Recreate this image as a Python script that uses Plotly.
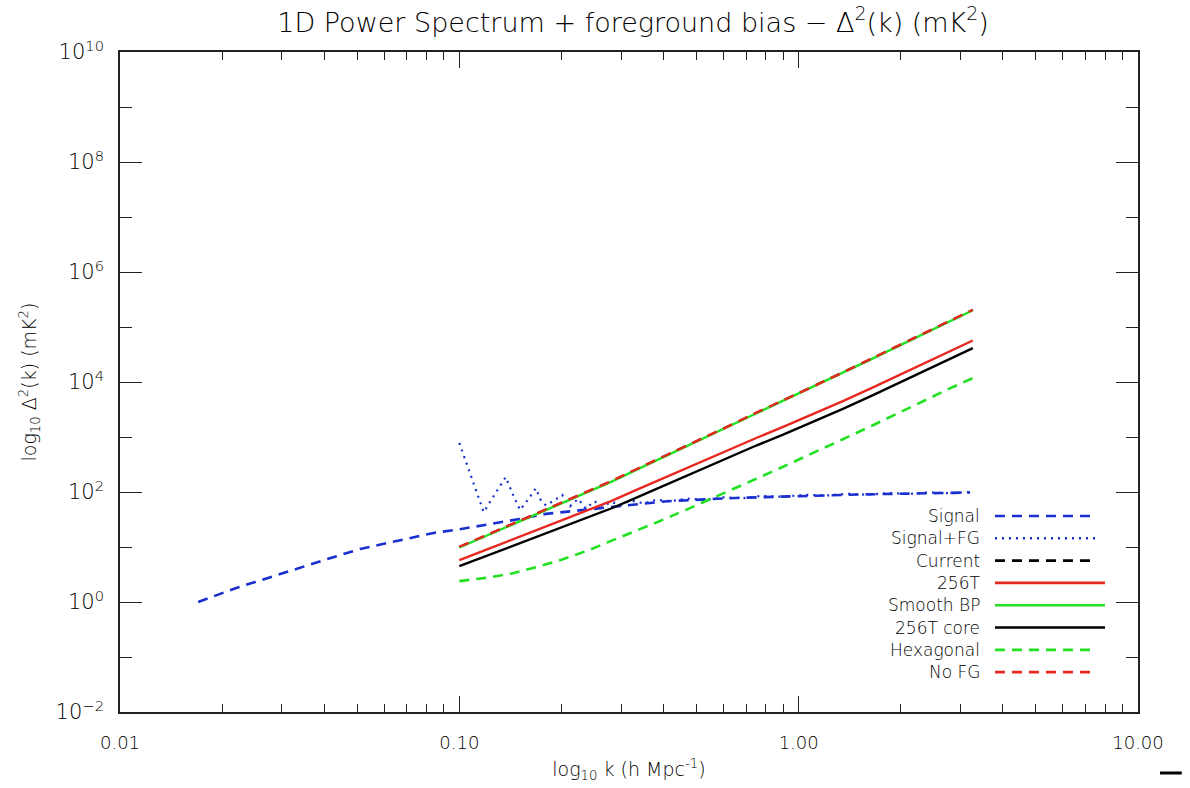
import plotly.graph_objects as go

# ---------------- data ----------------
k_signal = [0.017, 0.022, 0.025, 0.032, 0.040, 0.051, 0.066, 0.084, 0.100, 0.119,
            0.149, 0.18, 0.215, 0.257, 0.30, 0.41, 0.65, 1.0, 1.5, 2.2, 3.2]
v_signal = [1.0, 1.8, 2.3, 3.8, 5.8, 9.2, 12.9, 18, 21, 25,
            32, 40, 45, 50, 57, 68, 78, 85, 90, 94, 98]

k_sfg = [0.100, 0.108, 0.118, 0.127, 0.137, 0.145, 0.151, 0.160, 0.168, 0.174,
         0.180, 0.190, 0.201, 0.212, 0.224, 0.236, 0.25, 0.265, 0.28, 0.30,
         0.32, 0.35, 0.38, 0.42, 0.47, 0.53, 0.6, 0.68, 0.78, 0.9,
         1.05, 1.2, 1.4, 1.6, 1.85, 2.1, 2.4, 2.8, 3.2]
v_sfg = [780, 200, 43, 90, 187, 80, 47, 75, 117, 70,
         57, 70, 88, 55, 75, 50, 68, 55, 66, 58,
         70, 62, 72, 68, 76, 72, 80, 77, 85, 82,
         89, 86, 93, 89, 96, 92, 98, 95, 100]

k_grid = [0.1, 0.12, 0.143, 0.17, 0.2, 0.24, 0.28, 0.33, 0.4, 0.5,
          0.6, 0.75, 0.9, 1.1, 1.35, 1.65, 2.0, 2.45, 2.85, 3.26]

v_current = [10, 16.2, 25.7, 40.7, 63, 102, 155, 251, 437, 832,
             1410, 2750, 4570, 8130, 14800, 26900, 47900, 87100, 135000, 204000]
v_smooth = [9.8, 16.0, 25.3, 40.2, 62, 101, 153, 248, 432, 824,
            1400, 2720, 4530, 8050, 14650, 26600, 47400, 86300, 133500, 202000]
v_nofg = [10.1, 16.4, 26.0, 41.1, 64, 103, 157, 254, 441, 840,
          1425, 2775, 4610, 8200, 14950, 27150, 48300, 87900, 136300, 206000]
v_256t = [5.75, 8.9, 13.5, 20.4, 30.2, 46.8, 68.4, 107, 180, 331,
          540, 960, 1530, 2600, 4500, 7900, 13700, 24500, 37800, 56900]
v_core = [4.47, 6.84, 10.2, 15.3, 22.4, 34.3, 50.1, 77.6, 130, 240,
          390, 700, 1100, 1870, 3250, 5700, 9900, 17700, 27300, 41200]
v_hex = [2.40, 2.75, 3.31, 4.37, 5.89, 8.71, 12.9, 19.5, 31.6, 57.5,
         93.3, 174, 288, 501, 912, 1622, 2884, 5248, 8128, 11749]

legend_names = ["Signal", "Signal+FG", "Current", "256T", "Smooth BP",
                "256T core", "Hexagonal", "No FG"]

x_tickvals = [0.01, 0.1, 1, 10]
x_ticktext = ["0.01", "0.10", "1.00", "10.00"]
y_exponents = [-2, 0, 2, 4, 6, 8, 10]

# ---------------- styles ----------------
BLUE = "#1a2fd0"
RED = "#e8281e"
GREEN = "#22e022"
BLACK = "#000000"
DASH = "10px,7px"
DOT = "2px,5px"

series = [
    (k_signal, v_signal, BLUE, DASH, 2.6),
    (k_sfg, v_sfg, BLUE, DOT, 2.2),
    (k_grid, v_current, BLACK, DASH, 2.4),
    (k_grid, v_256t, RED, "solid", 2.4),
    (k_grid, v_smooth, GREEN, "solid", 2.4),
    (k_grid, v_core, BLACK, "solid", 2.4),
    (k_grid, v_hex, GREEN, DASH, 2.6),
    (k_grid, v_nofg, RED, DASH, 2.4),
]

FONT = "DejaVu Sans"
TXT = "#000000"
AX = "#222222"

fig = go.Figure()
for (kx, vy, col, dash, w), name in zip(series, legend_names):
    fig.add_trace(go.Scatter(x=kx, y=vy, mode="lines", name=name,
                             line=dict(color=col, dash=dash, width=w),
                             showlegend=False))

# ---------------- custom IDL-style legend (text left, sample right) ----------------
row0 = 0.297
step = 0.0338
for i, ((kx, vy, col, dash, w), name) in enumerate(zip(series, legend_names)):
    yy = row0 - i * step
    x1 = 0.9676 if dash == "solid" else 0.9597
    fig.add_shape(type="line", xref="paper", yref="paper",
                  x0=0.8595, x1=x1, y0=yy, y1=yy,
                  line=dict(color=col, dash=dash, width=2.6))
    fig.add_annotation(xref="paper", yref="paper", x=0.847, y=yy,
                       text=name, showarrow=False, xanchor="right",
                       yanchor="middle",
                       font=dict(family=FONT, size=17, color=TXT, weight=200))

# small mark at the bottom right corner of the picture
fig.add_shape(type="line", xref="paper", yref="paper",
              x0=1.0216, x1=1.043, y0=-0.0924, y1=-0.0924,
              line=dict(color=BLACK, width=3))

axis_common = dict(showgrid=False, zeroline=False, showline=True,
                   linecolor=AX, linewidth=1.6, mirror="ticks",
                   ticks="inside", tickcolor=AX, tickwidth=1.4)

fig.update_xaxes(type="log", range=[-2, 1],
                 tickvals=x_tickvals, ticktext=x_ticktext, ticklen=16,
                 ticklabelstandoff=14,
                 tickfont=dict(family=FONT, size=18, color=TXT, weight=200),
                 minor=dict(ticks="inside", ticklen=8, tickcolor=AX,
                            tickwidth=1.4, dtick="D1", showgrid=False),
                 title=dict(text="log<sub>10</sub> k (h Mpc<sup>-1</sup>)",
                            font=dict(family=FONT, size=19, color=TXT, weight=200),
                            standoff=10),
                 **axis_common)

fig.update_yaxes(type="log", range=[-2, 10],
                 tickvals=[10 ** e for e in y_exponents],
                 ticktext=["10<sup>%s</sup>" % (str(e).replace("-", "−")) for e in y_exponents],
                 ticklen=22, ticklabelstandoff=10,
                 tickfont=dict(family=FONT, size=21, color=TXT, weight=200),
                 minor=dict(ticks="inside", ticklen=12, tickcolor=AX,
                            tickwidth=1.4,
                            tickvals=[10 ** e for e in range(-1, 10, 2)],
                            showgrid=False),
                 title=dict(text="log<sub>10</sub> Δ<sup>2</sup>(k) (mK<sup>2</sup>)",
                            font=dict(family=FONT, size=19, color=TXT, weight=200),
                            standoff=14),
                 **axis_common)

fig.update_layout(
    width=1190, height=788,
    margin=dict(l=120, r=52, t=52, b=76),
    paper_bgcolor="white", plot_bgcolor="white",
    title=dict(text="1D Power Spectrum + foreground bias − Δ<sup>2</sup>(k) (mK<sup>2</sup>)",
               x=0.532, xanchor="center", y=0.972, yanchor="middle",
               font=dict(family=FONT, size=27, color=TXT, weight=200)),
)

fig.write_html("out.html")
